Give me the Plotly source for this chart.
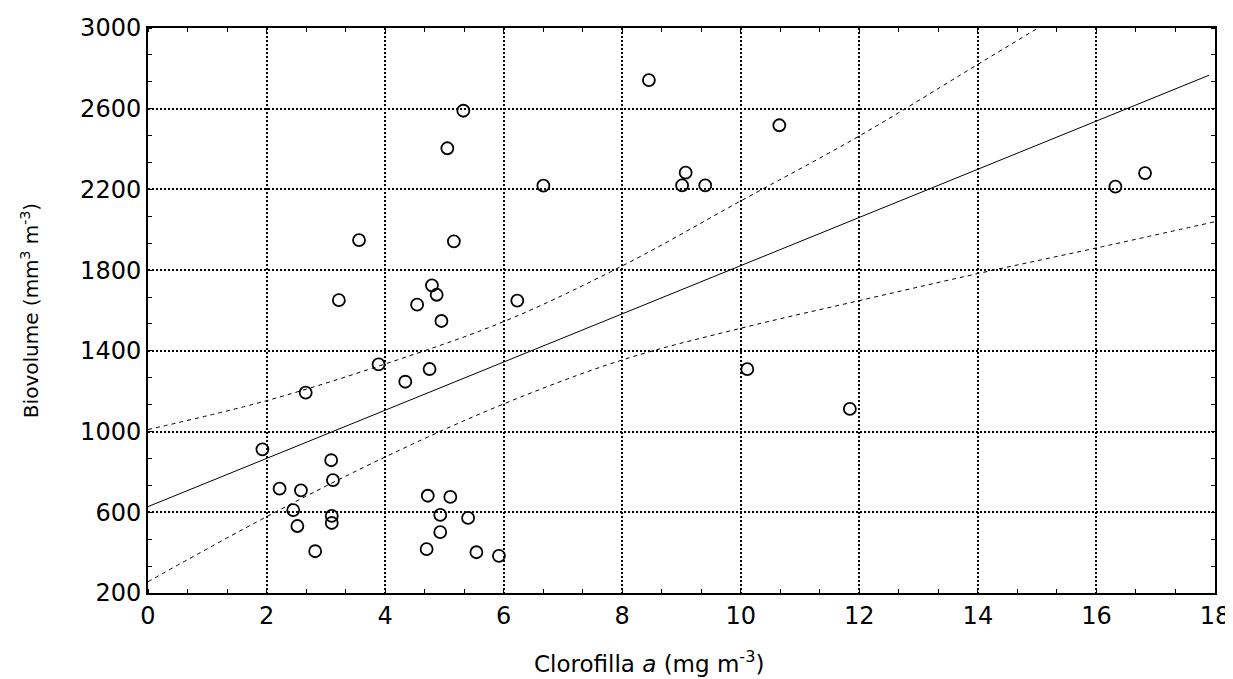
import plotly.graph_objects as go

# Scatter data: chlorophyll a (mg m-3) vs biovolume (mm3 m-3)
chl = [1.93, 3.09, 3.12, 2.22, 2.58, 2.45, 3.10, 3.10, 2.52, 2.82,
       4.72, 5.10, 4.93, 5.40, 4.93, 4.70, 5.54, 5.92,
       5.32, 5.05, 6.67, 3.56, 5.16, 3.22, 4.79, 4.87, 4.54, 6.23,
       4.95, 3.89, 4.75, 4.34, 2.66,
       8.45, 10.65, 9.07, 9.01, 9.40,
       10.11, 11.84, 16.32, 16.82]
biov = [912, 858, 759, 717, 709, 611, 582, 547, 532, 407,
        682, 676, 587, 572, 502, 417, 402, 384,
        2590, 2404, 2219, 1949, 1943, 1651, 1725, 1678, 1629, 1649,
        1548, 1333, 1310, 1247, 1193,
        2742, 2518, 2283, 2220, 2220,
        1309, 1112, 2214, 2281]

# Regression line
fit_x = [0, 17.9]
fit_y = [628, 2766]

# Confidence band
band_x = [0, 2, 4, 6, 8, 10, 12, 14, 16, 18]
band_upper = [1010, 1153, 1335, 1545, 1821, 2143, 2465, 2820, 3175, 3530]
band_lower = [256, 578, 874, 1137, 1355, 1512, 1649, 1783, 1910, 2040]

x_ticks = [0, 2, 4, 6, 8, 10, 12, 14, 16, 18]
y_ticks = [200, 600, 1000, 1400, 1800, 2200, 2600, 3000]

FONT = "DejaVu Sans"

fig = go.Figure()
fig.add_trace(go.Scatter(x=band_x, y=band_upper, mode="lines", line_shape="spline",
                         line=dict(color="black", width=1, dash="4px,4px"), hoverinfo="skip"))
fig.add_trace(go.Scatter(x=band_x, y=band_lower, mode="lines", line_shape="spline",
                         line=dict(color="black", width=1, dash="4px,4px"), hoverinfo="skip"))
fig.add_trace(go.Scatter(x=fit_x, y=fit_y, mode="lines",
                         line=dict(color="black", width=1)))
fig.add_trace(go.Scatter(x=chl, y=biov, mode="markers",
                         marker=dict(symbol="circle-open", size=12,
                                     color="black", line=dict(width=1.8, color="black"))))

axis_common = dict(
    showline=True, linecolor="black", linewidth=2, mirror="allticks",
    showgrid=True, gridcolor="black", gridwidth=2, griddash="2px,2px",
    zeroline=False, ticks="", tickfont=dict(family=FONT, size=24, color="black"),
    tickmode="array",
)

fig.update_xaxes(**axis_common, range=[0, 18], tickvals=x_ticks,
                 ticktext=[str(v) for v in x_ticks],
                 minor=dict(dtick=2/3, tick0=0, ticks="inside", ticklen=4,
                            tickcolor="black", showgrid=False))
fig.update_yaxes(**axis_common, range=[200, 3000], tickvals=y_ticks,
                 ticktext=[str(v) for v in y_ticks],
                 minor=dict(dtick=400/3, tick0=200, ticks="inside", ticklen=4,
                            tickcolor="black", showgrid=False),
                 title=dict(text="Biovolume (mm<sup>3</sup> m<sup>-3</sup>)",
                            font=dict(family=FONT, size=20, color="black"), standoff=36))

fig.add_annotation(text="Clorofilla <i>a</i> (mg m<sup>-3</sup>)",
                   xref="paper", yref="paper", x=0.4695, y=0,
                   xanchor="center", yanchor="middle", yshift=-69, showarrow=False,
                   font=dict(family=FONT, size=23, color="black"))

fig.update_layout(
    width=1225, height=671,
    margin=dict(l=140, r=18, t=20, b=86, autoexpand=False),
    plot_bgcolor="white", paper_bgcolor="white",
    showlegend=False,
)

fig.write_html("out.html")
